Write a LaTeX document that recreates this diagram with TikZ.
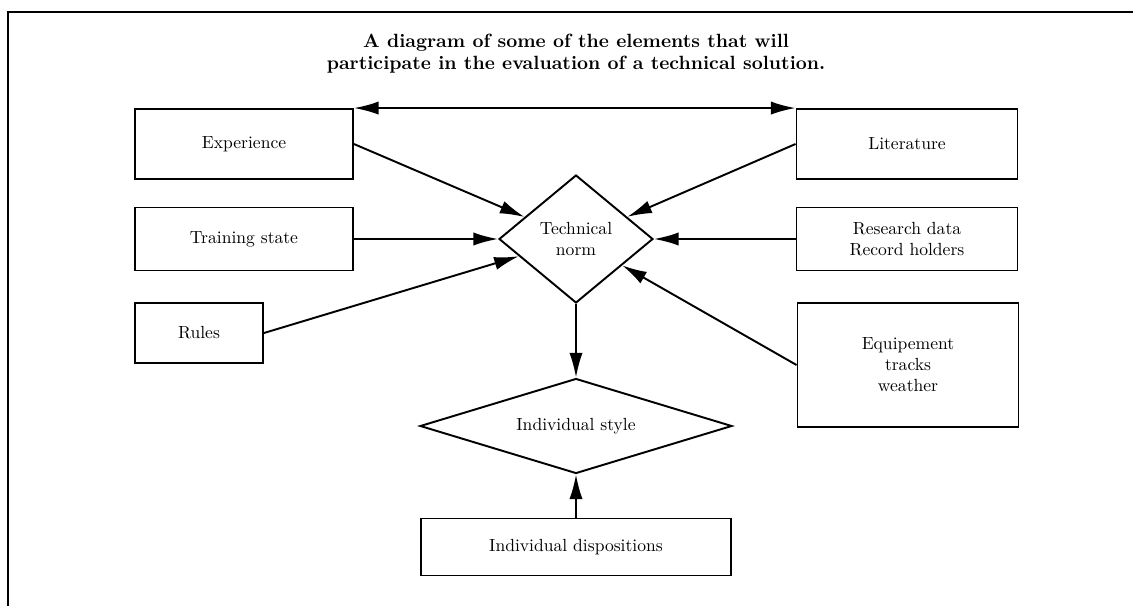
\documentclass[tikz,border=0pt]{standalone}
\usetikzlibrary{shapes.geometric,arrows.meta}

\begin{document}
\begin{tikzpicture}
  [->, >={Latex[length=14pt,width=7.5pt]}, x=0.02cm, y=-0.02cm,
    line width=1.1pt, align=center,
    factor/.style={
      rectangle, draw, inner sep=0pt, font=\normalsize
    },
    judge/.style={
      diamond, draw, inner sep=0pt, aspect=4
    },
  ]
  \useasboundingbox (0,0) rectangle (1133,606);

  % Frame (top and left edges only)
  \draw[-, line width=1.6pt] (1133,12) -- (8,12) -- (8,606);

  \node[font=\fontsize{10.9}{12.6}\selectfont\bfseries] (title) at (576,54)
    {A diagram of some of the elements that will\\
     participate in the evaluation of a technical solution.};

  % Boxes on the left and on the right
  \node[factor, minimum width=4.36cm, minimum height=1.4cm] (exp) at (244,144) {Experience};
  \node[factor, minimum width=4.36cm, minimum height=1.26cm] (train) at (244,239) {Training state};
  \node[factor, minimum width=2.56cm, minimum height=1.2cm] (rules) at (199,333) {Rules};
  \node[factor, minimum width=4.42cm, minimum height=1.4cm] (lit) at (907,144) {Literature};
  \node[factor, minimum width=4.42cm, minimum height=1.26cm] (res) at (907,239) {Research data\\Record holders};
  \node[factor, minimum width=4.42cm, minimum height=2.48cm] (equip) at (908,365) {Equipement\\tracks\\weather};
  \node[factor, minimum width=6.2cm, minimum height=1.14cm] (disp) at (576,547) {Individual dispositions};

  % Diamonds
  \node[judge, aspect=1, minimum width=3.08cm, minimum height=2.56cm] (tn) at (576,239) {Technical\\norm};
  \node[judge, minimum width=6.24cm, minimum height=1.9cm] (is) at (576,426) {Individual style};

  % Edges into the technical norm
  \draw[<->] (exp.north east) -- (lit.north west);
  \path[->]
  (exp.east) edge (tn)
  (train.east) edge (tn.west)
  (rules.east) edge (tn)
  (lit.west) edge (tn)
  (res.west) edge (tn.east)
  (equip.west) edge (tn);

  % Edges into the individual style
  \draw[->] (tn.south) -- (is.north);
  \draw[->] (disp.north) -- (is.south);
\end{tikzpicture}
\end{document}
